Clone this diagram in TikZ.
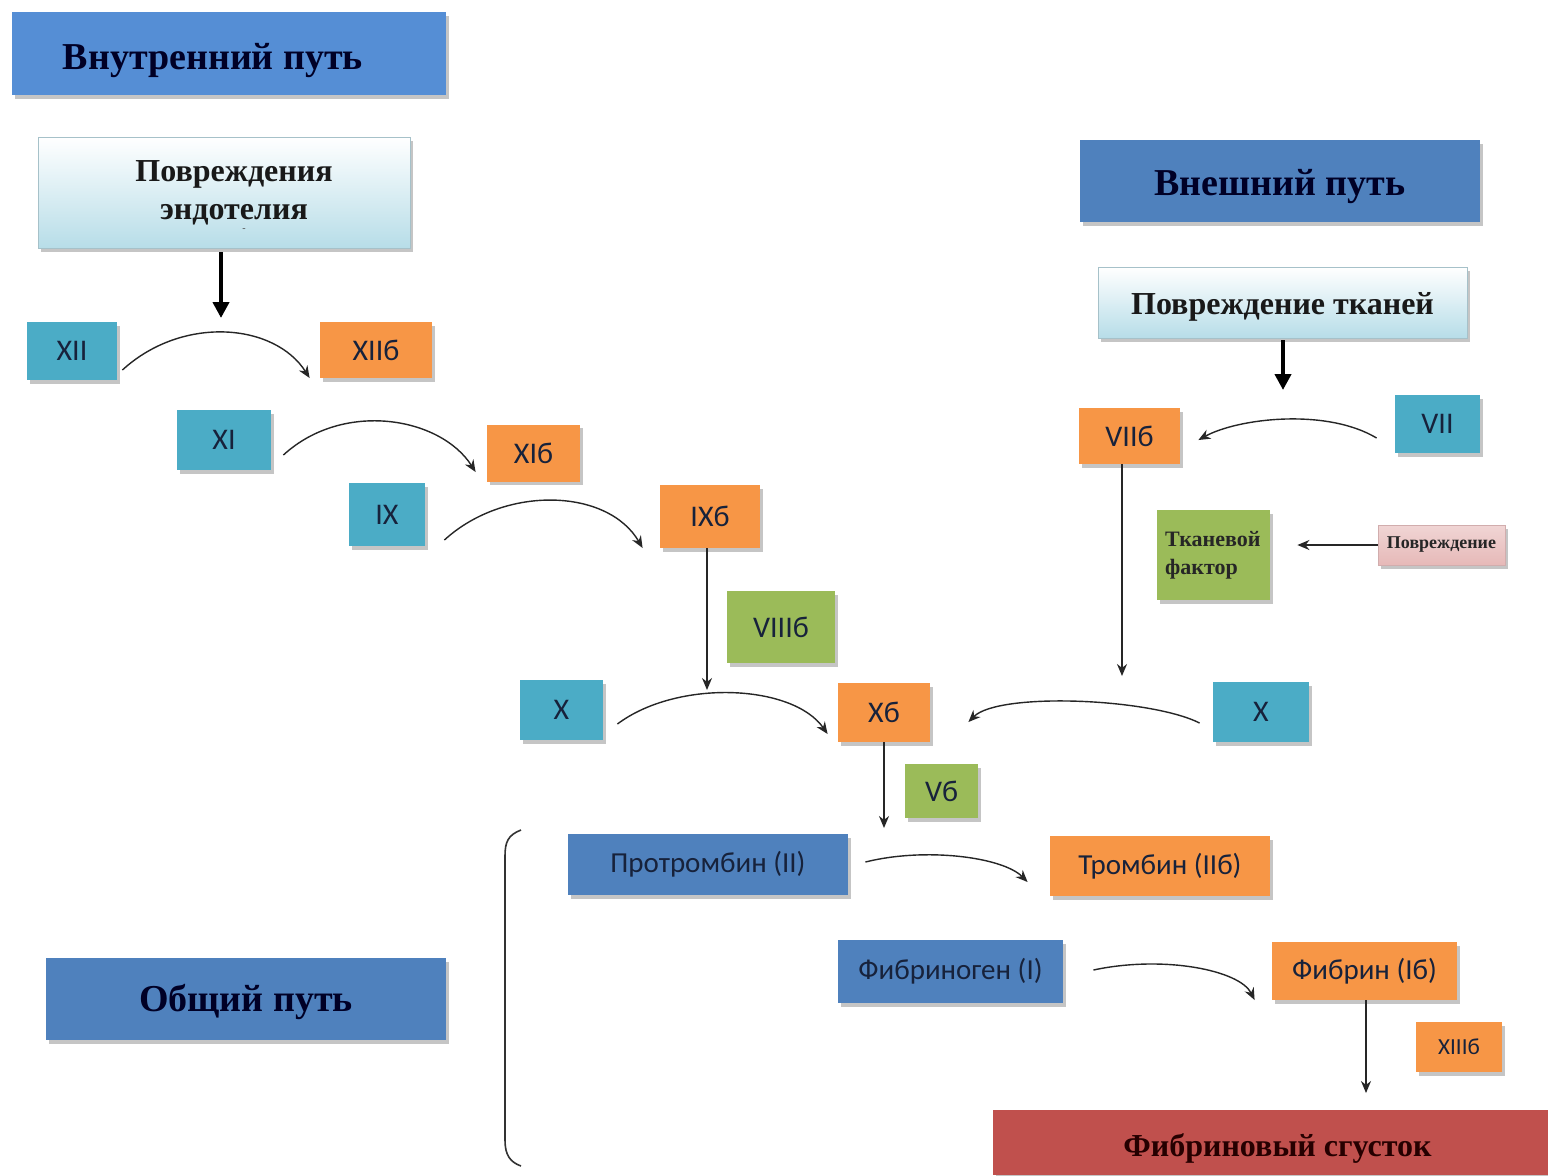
\documentclass[tikz,border=0pt]{standalone}
\usepackage{fontspec}
\setmainfont{Liberation Serif}
\newfontfamily\labfont{Carlito}
\usetikzlibrary{arrows.meta,shadows,calc}
\definecolor{cteal}{HTML}{4BACC6}
\definecolor{corange}{HTML}{F79646}
\definecolor{cgreen}{HTML}{9BBB59}
\definecolor{cblue}{HTML}{4F81BD}
\definecolor{ctitle}{HTML}{558ED5}
\definecolor{cred}{HTML}{C0504D}
\definecolor{ctext}{HTML}{17223B}
\definecolor{cpink}{HTML}{E6B9B8}
\definecolor{ccyan}{HTML}{B7DDE8}
\tikzset{
  box/.style={rectangle, inner sep=0pt, text=ctext,
    drop shadow={shadow xshift=1.5pt, shadow yshift=-1.8pt, fill=black!45, opacity=0.5}},
  factor/.style={box, font=\labfont\fontsize{15}{18}\selectfont},
  tealbox/.style={factor, fill=cteal},
  orbox/.style={factor, fill=corange},
  grbox/.style={factor, fill=cgreen},
  bluebox/.style={factor, fill=cblue, font=\labfont\fontsize{14.5}{17}\selectfont},
  titlebox/.style={box, font=\bfseries\fontsize{19}{22}\selectfont, text=black!85!blue},
  gradbox/.style={box, top color=white, bottom color=ccyan, draw=ccyan!70!gray, line width=0.4pt,
    font=\bfseries\fontsize{16}{19}\selectfont, text=black!90, align=center},
  thinarrow/.style={draw=black!85, line width=0.7pt, -{Stealth[length=6pt,width=5pt]}},
  thickarrow/.style={draw=black, line width=2pt, -{Triangle[length=8pt,width=8pt]}},
}
\begin{document}
\begin{tikzpicture}[x=0.5pt,y=-0.5pt]
\useasboundingbox[fill=white] (0,0) rectangle (1548,1175);

% titles
\node[titlebox, fill=ctitle, minimum width=217pt, minimum height=41.5pt] (tin) at (229,53.5) {\rule{0pt}{20pt}Внутренний путь\hspace*{16pt}};
\node[titlebox, fill=cblue, minimum width=200pt, minimum height=41pt] (tex) at (1280,181) {\rule{0pt}{19pt}Внешний путь};
\node[titlebox, fill=cblue, minimum width=200pt, minimum height=41pt] (tcom) at (246,999) {\rule{0pt}{17pt}Общий путь};

% gradient boxes
\node[gradbox, minimum width=186pt, minimum height=55.5pt] (endo) at (224,192.5) {\hspace*{10pt}Повреждения\\\hspace*{10pt}эндотелия};
\node[font=\tiny, inner sep=0pt, text=black!70] (dot) at (244,230) {-};
\node[gradbox, minimum width=184.5pt, minimum height=35.5pt] (tissue) at (1282.5,302.5) {\rule{0pt}{15pt}Повреждение тканей};

% intrinsic factors
\node[tealbox, minimum width=45pt, minimum height=29pt] (XII) at (72,351) {XII};
\node[orbox, minimum width=56pt, minimum height=28pt] (XIIb) at (376,350) {XIIб};
\node[tealbox, minimum width=47pt, minimum height=30pt] (XI) at (224,440) {XI};
\node[orbox, minimum width=46.5pt, minimum height=28.5pt] (XIb) at (533.5,453) {XIб};
\node[tealbox, minimum width=38pt, minimum height=31.5pt] (IX) at (387,514.5) {IX};
\node[orbox, minimum width=50pt, minimum height=31.5pt] (IXb) at (710,516.5) {IXб};
\node[grbox, minimum width=54pt, minimum height=36pt] (VIIIb) at (781,627) {VIIIб};
\node[tealbox, minimum width=41.5pt, minimum height=30pt] (Xl) at (561.5,710) {X};
\node[orbox, minimum width=46pt, minimum height=29.5pt] (Xb) at (884,712.5) {Xб};
\node[tealbox, minimum width=48pt, minimum height=30pt] (Xr) at (1261,712) {X};
\node[grbox, minimum width=36.5pt, minimum height=27pt] (Vb) at (941.5,791) {Vб};

% extrinsic
\node[orbox, minimum width=50.5pt, minimum height=28pt] (VIIb) at (1129.5,436) {VIIб};
\node[tealbox, minimum width=42.5pt, minimum height=29pt] (VII) at (1437.5,424) {VII};
\node[box, fill=cgreen, minimum width=56.5pt, minimum height=45pt, align=left,
  font=\bfseries\fontsize{11}{14}\selectfont, text=black!85] (TF) at (1213.5,555) {Тканевой\\фактор\hspace*{12pt}};
\node[box, top color=white!40!cpink, bottom color=cpink, draw=cpink!80!gray, line width=0.3pt,
  minimum width=63.5pt, minimum height=20pt, font=\bfseries\fontsize{9}{11}\selectfont, text=black!85] (dmg) at (1441.5,545) {Повреждение};

% common pathway
\node[bluebox, minimum width=140pt, minimum height=30.5pt] (prot) at (708,864.5) {Протромбин (II)};
\node[orbox, font=\labfont\fontsize{14.5}{17}\selectfont, minimum width=110pt, minimum height=30pt] (thr) at (1160,866) {Тромбин (IIб)};
\node[bluebox, minimum width=112.5pt, minimum height=31.5pt] (fgen) at (950.5,971.5) {Фибриноген (I)};
\node[orbox, font=\labfont\fontsize{14.5}{17}\selectfont, minimum width=92.5pt, minimum height=29pt] (fib) at (1364.5,971) {Фибрин (Iб)};
\node[orbox, font=\labfont\fontsize{11.5}{14}\selectfont, minimum width=43pt, minimum height=25pt] (XIIIb) at (1459,1047) {XIIIб};
\node[box, fill=cred, minimum width=277.5pt, minimum height=32.5pt,
  font=\bfseries\fontsize{16}{19}\selectfont, text=black!85!red] (clot) at (1270.5,1142.5) {\rule{0pt}{17pt}\hspace*{7pt}Фибриновый сгусток};

% free ends
\coordinate (e1) at (221,318);
\coordinate (e2) at (1283,390);
\coordinate (e3) at (707,690);
\coordinate (e4) at (1122,676);
\coordinate (e5) at (884,828);
\coordinate (e6) at (1366,1093);

% straight arrows
\draw[thickarrow] ([yshift=-2pt]e1 |- endo.south) -- (e1);
\draw[thickarrow] ([yshift=-1pt]e2 |- tissue.south) -- (e2);
\draw[thinarrow] (e3 |- IXb.south) -- (e3);
\draw[thinarrow] (e4 |- VIIb.south) -- (e4);
\draw[thinarrow] (e5 |- Xb.south) -- (e5);
\draw[thinarrow] (e6 |- fib.south) -- (e6);
\draw[thinarrow, shorten >=13.5pt] (dmg.west) -- (dmg.west -| TF.east);

% curved arrows
\draw[thinarrow] ([shift={(5,19)}]XII.east) .. controls +(60,-55) and +(-35,-55) .. ([shift={(-10,28)}]XIIb.west);
\draw[thinarrow] ([shift={(12,15)}]XI.east) .. controls +(60,-55) and +(-35,-55) .. ([shift={(-11,19)}]XIb.west);
\draw[thinarrow] ([shift={(19,25.5)}]IX.east) .. controls +(60,-55) and +(-35,-60) .. ([shift={(-17,31.5)}]IXb.west);
\draw[thinarrow] ([shift={(14,14)}]Xl.east) .. controls +(60,-45) and +(-35,-50) .. ([shift={(-10,21.5)}]Xb.west);
\draw[thinarrow] ([shift={(-13,11)}]Xr.west) .. controls +(-50,-25) and +(30,-30) .. ([shift={(38,9.5)}]Xb.east);
\draw[thinarrow] ([shift={(-18,14)}]VII.west) .. controls +(-50,-30) and +(40,-22) .. ([shift={(18,4)}]VIIb.east);
\draw[thinarrow] ([shift={(17,-2.5)}]prot.east) .. controls +(60,-15) and +(-25,-25) .. ([shift={(-22,16)}]thr.west);
\draw[thinarrow] ([shift={(30,-1.5)}]fgen.east) .. controls +(70,-15) and +(-15,-30) .. ([shift={(-17,29)}]fib.west);

% bracket
\draw[black!80, line width=0.8pt] (521,830) .. controls (508,835) and (505,842) .. (505,856)
  -- (505,1140) .. controls (505,1155) and (510,1162) .. (521,1166);
\end{tikzpicture}
\end{document}
